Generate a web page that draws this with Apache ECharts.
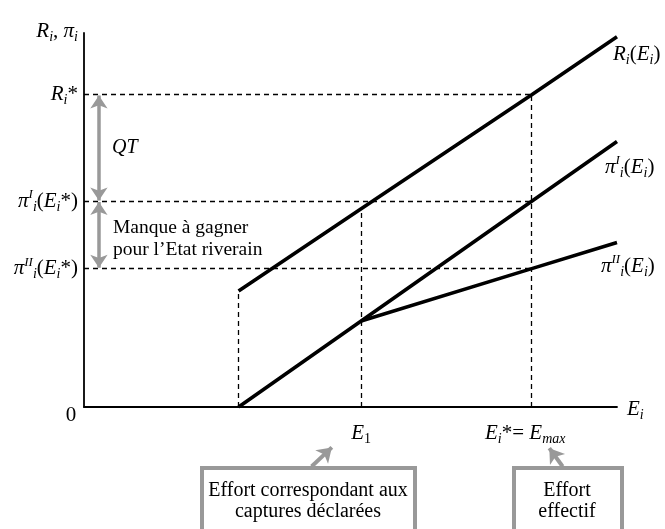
<!DOCTYPE html>
<html>
<head>
<meta charset="utf-8">
<script src="https://cdn.jsdelivr.net/npm/echarts@6/dist/echarts.min.js"></script>
<style>html,body{margin:0;padding:0;background:#fff}#c{width:665px;height:529px}</style>
</head>
<body>
<div id="c"></div>
<script>
// ---- data (schematic units: effort 0..100, revenue/profit 0..100) ----
const effort   = [29, 52, 84, 100];      // E0 (start), E1, Ei* = Emax, end of drawn range
const revenue  = [31, 53, 83.5, 99];     // Ri(Ei)
const profitI  = [0, 23, 55, 71];        // pi^I_i(Ei)
const profitII = [null, 23, 37, 44];     // pi^II_i(Ei), starts at E1
const xTickValues = [52, 84];            // E1, Ei*
const yTickValues = [37, 55, 83.5];      // pi^II*, pi^I*, Ri*

const F = 'Liberation Serif';
const rich = {
  it:  {fontFamily: F, fontStyle: 'italic', fontSize: 21, lineHeight: 26, color: '#000'},
  rm:  {fontFamily: F, fontSize: 21, lineHeight: 26, color: '#000'},
  sb:  {fontFamily: F, fontStyle: 'italic', fontSize: 14, lineHeight: 9, verticalAlign: 'bottom', color: '#000'},
  sbm: {fontFamily: F, fontStyle: 'italic', fontSize: 14, lineHeight: 9, verticalAlign: 'bottom', color: '#000', padding: [0, 13, 0, 0]},
  sbr: {fontFamily: F, fontSize: 14, lineHeight: 9, verticalAlign: 'bottom', color: '#000'},
  sp:  {fontFamily: F, fontStyle: 'italic', fontSize: 13, lineHeight: 15, verticalAlign: 'top', color: '#000'}
};
const T = {
  yName:   '{it|R}{sb|i}{rm|, }{it|π}{sb|i}',
  xName:   '{it|E}{sb|i}',
  Rstar:   '{it|R}{sb|i}{rm|*}',
  piIst:   '{it|π}{sp|I}{sb|i}{rm|(}{it|E}{sb|i}{rm|*)}',
  piIIst:  '{it|π}{sp|II}{sb|i}{rm|(}{it|E}{sb|i}{rm|*)}',
  E1:      '{it|E}{sbr|1}',
  Estar:   '{it|E}{sb|i}{rm|*= }{it|E}{sbm|max}',
  RE:      '{it|R}{sb|i}{rm|(}{it|E}{sb|i}{rm|)}',
  piIE:    '{it|π}{sp|I}{sb|i}{rm|(}{it|E}{sb|i}{rm|)}',
  piIIE:   '{it|π}{sp|II}{sb|i}{rm|(}{it|E}{sb|i}{rm|)}'
};

function pts(ys){ const o=[]; effort.forEach((e,i)=>{ if(ys[i]!==null) o.push([e, ys[i]]); }); return o; }

const guides = [
  {coords: [[0, revenue[2]], [effort[2], revenue[2]]]},
  {coords: [[0, profitI[2]], [effort[2], profitI[2]]]},
  {coords: [[0, profitII[2]], [effort[2], profitII[2]]]},
  {coords: [[effort[0], 0], [effort[0], revenue[0]]]},
  {coords: [[effort[1], 0], [effort[1], revenue[1]]]},
  {coords: [[effort[2], 0], [effort[2], revenue[2]]]}
];
const ax = 2.8;
const grayArrows = [
  {coords: [[ax, revenue[2] - 0.2], [ax, profitI[2] + 0.2]]},
  {coords: [[ax, profitI[2] - 0.2], [ax, profitII[2] + 0.2]]}
];
const pointerArrows = [
  {coords: [[42.7, -15.9], [46.5, -10.8]]},
  {coords: [[89.8, -15.9], [87.3, -11.0]]}
];

const chart = echarts.init(document.getElementById('c'), null, {renderer: 'canvas'});
const blackLine = {color: '#000', width: 3.6};
const txt = (text, x, y, font, align) => ({type: 'text', silent: true,
  style: {text: text, x: x, y: y, font: font, fill: '#000', align: align || 'center', verticalAlign: 'middle'}});
chart.setOption({
  animation: false,
  grid: {left: 84, right: 48, top: 33, bottom: 122, containLabel: false},
  xAxis: {
    type: 'value', min: 0, max: 100,
    axisLine: {show: true, lineStyle: {color: '#000', width: 1.8}},
    axisTick: {show: false}, splitLine: {show: false},
    axisLabel: {
      customValues: xTickValues, margin: 13, rich: rich,
      formatter: v => Math.abs(v - xTickValues[0]) < 0.01 ? T.E1 : T.Estar
    },
    name: T.xName, nameLocation: 'end', nameGap: 10,
    nameTextStyle: {rich: rich, verticalAlign: 'middle', padding: [4, 0, 0, 0]}
  },
  yAxis: {
    type: 'value', min: 0, max: 100,
    axisLine: {show: true, lineStyle: {color: '#000', width: 1.8}},
    axisTick: {show: false}, splitLine: {show: false},
    axisLabel: {
      customValues: yTickValues, margin: 6, rich: rich,
      formatter: v => Math.abs(v - yTickValues[0]) < 0.01 ? T.piIIst : (Math.abs(v - yTickValues[1]) < 0.01 ? T.piIst : T.Rstar)
    },
    name: T.yName, nameLocation: 'end', nameGap: 2,
    nameTextStyle: {rich: rich, align: 'right', verticalAlign: 'middle', padding: [0, 6, 0, 0]}
  },
  series: [
    {type: 'lines', coordinateSystem: 'cartesian2d', data: guides, silent: true,
     lineStyle: {color: '#000', width: 1.3, type: [5, 4], opacity: 1}, z: 1},
    {type: 'line', name: 'R', data: pts(revenue), symbol: 'none', lineStyle: blackLine, z: 3,
     endLabel: {show: true, formatter: T.RE, rich: rich, distance: 0, offset: [-4, 18]}},
    {type: 'line', name: 'piI', data: pts(profitI), symbol: 'none', lineStyle: blackLine, z: 3,
     endLabel: {show: true, formatter: T.piIE, rich: rich, distance: 0, offset: [-12, 26]}},
    {type: 'line', name: 'piII', data: pts(profitII), symbol: 'none', lineStyle: blackLine, z: 3,
     endLabel: {show: true, formatter: T.piIIE, rich: rich, distance: 0, offset: [-16, 24]}},
    {type: 'lines', coordinateSystem: 'cartesian2d', data: grayArrows, silent: true,
     symbol: ['arrow', 'arrow'], symbolSize: 13,
     lineStyle: {color: '#999', width: 3.5, opacity: 1}, z: 4},
    {type: 'lines', coordinateSystem: 'cartesian2d', data: pointerArrows, silent: true, clip: false,
     symbol: ['none', 'arrow'], symbolSize: 14,
     lineStyle: {color: '#999', width: 4, opacity: 1}, z: 4}
  ],
  graphic: [
    txt('0', 71, 415, '21px "Liberation Serif"'),
    txt('QT', 112, 148, 'italic 20px "Liberation Serif"', 'left'),
    txt('Manque à gagner', 113, 228, '19.5px "Liberation Serif"', 'left'),
    txt('pour l\u2019Etat riverain', 113, 250, '19.5px "Liberation Serif"', 'left'),
    {type: 'rect', silent: true, shape: {x: 202, y: 468, width: 213, height: 80}, style: {fill: 'none', stroke: '#999', lineWidth: 4}},
    {type: 'rect', silent: true, shape: {x: 514, y: 468, width: 108, height: 80}, style: {fill: 'none', stroke: '#999', lineWidth: 4}},
    txt('Effort correspondant aux', 308, 491, '20px "Liberation Serif"'),
    txt('captures déclarées', 308, 512, '20px "Liberation Serif"'),
    txt('Effort', 567, 491, '20px "Liberation Serif"'),
    txt('effectif', 567, 512, '20px "Liberation Serif"')
  ]
});
</script>
</body>
</html>
